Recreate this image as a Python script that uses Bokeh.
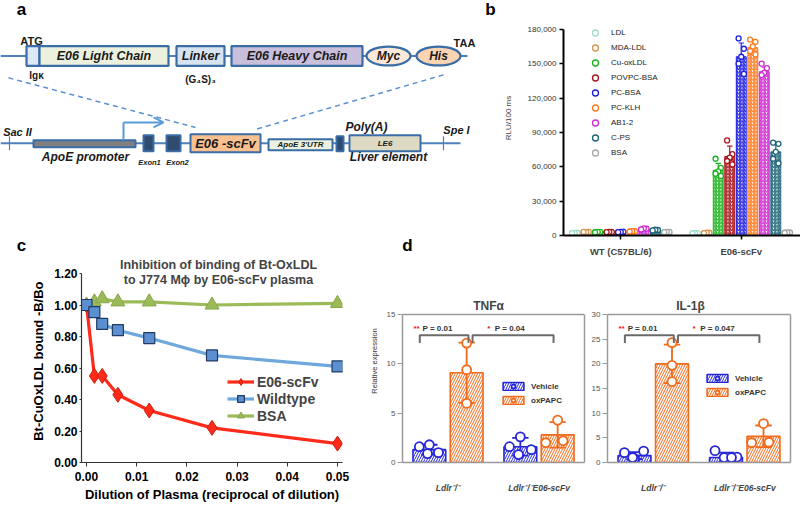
import numpy as np
from bokeh.plotting import figure
from bokeh.layouts import row, column
from bokeh.models import (Range1d, FixedTicker, NumeralTickFormatter, Label, Span, LinearAxis,
                          Legend, LegendItem, Arrow, OpenHead)
from bokeh.core.properties import value
from bokeh.embed import file_html
from bokeh.resources import INLINE

FONT = "Liberation Sans"

# ================= Panel a : construct diagram =================
a_top_box_left = [26, 39, 176, 231]
a_top_box_right = [39, 168, 224, 362]
a_top_box_fill = ["#DDE8F4", "#EBF1DE", "#D7E3F1", "#C9BEDB"]
a_top_box_text = ["", "E06 Light Chain", "Linker", "E06 Heavy Chain"]
a_oval_x = [388, 438]
a_oval_fill = ["#FDE9D9", "#FBD4B4"]
a_oval_text = ["Myc", "His"]
a_bot_box_left = [33, 143, 166, 190, 268, 336, 349]
a_bot_box_right = [135, 153, 180, 260, 332, 343, 420]
a_bot_box_top = [141, 136, 136, 135, 140, 137, 136]
a_bot_box_bottom = [148, 152, 152, 153, 151, 152, 152]
a_bot_box_fill = ["#808080", "#2F4B6E", "#2F4B6E", "#FAC090", "#EBF1DE", "#2F4B6E", "#DDD9C3"]
a_big_text = ["E06 -scFv"]
a_small_text = ["ApoE 3'UTR", "LE6"]
a_labels = ["ATG", "TAA", "Igκ", "(G₄S)₃", "Sac II", "Spe I", "Poly(A)",
            "ApoE promoter", "Exon1", "Exon2", "Liver element"]
a_label_x = [31, 464, 36, 200, 17, 456, 366, 85, 149, 177, 388]
a_label_y = [41, 43, 76, 80, 133, 131, 128, 158, 163, 163, 158]
a_label_size = ["11px", "11px", "10px", "10px", "11px", "11px", "12px", "12px", "7.5px", "7.5px", "12px"]
a_label_style = ["bold", "bold", "bold", "bold", "bold italic", "bold italic", "bold italic",
                 "bold italic", "bold italic", "bold italic", "bold italic"]
top_letters = ["a", "b"]
top_letter_x = [21, 490]
top_letter_y = [9, 9]
lower_letters = ["c", "d"]
lower_letter_x = [21, 407]

# ================= Panel b : binding to epitopes =================
b_groups = ["WT (C57BL/6)", "E06-scFv"]
b_series = ["LDL", "MDA-LDL", "Cu-oxLDL", "POVPC-BSA", "PC-BSA", "PC-KLH", "AB1-2", "C-PS", "BSA"]
b_colors = ["#A3DDCF", "#D6954E", "#1CB31C", "#A8161C", "#1F1FE0", "#FF7B1F", "#D02DD0", "#1E6577", "#A6A6A6"]
b_wt_mean = [2300, 3000, 3000, 3000, 3000, 3600, 5600, 4600, 3000]
b_wt_sd = [300, 300, 300, 300, 400, 400, 800, 600, 300]
b_e06_mean = [2000, 2300, 57000, 69000, 156000, 164000, 143000, 73000, 2600]
b_e06_sd = [300, 300, 6000, 9000, 12000, 7000, 4000, 7000, 300]
b_wt_points = [[2000, 2400, 2300, 2100], [2900, 3200, 3000, 3100], [2900, 3200, 3100, 2800],
               [2800, 3100, 3200, 3000], [2700, 3300, 3100, 2900], [3300, 3700, 3900, 3400],
               [5000, 5900, 6200, 5300], [4200, 4800, 5000, 4400], [2800, 3100, 3200, 2900]]
b_e06_points = [[1800, 2100, 2200, 1900], [2000, 2400, 2500, 2100],
                [67000, 59000, 56000, 54000, 52000], [83000, 71000, 68000, 65000, 62000],
                [172000, 163000, 156000, 150000, 141000], [171000, 169000, 165000, 161000, 158000],
                [150000, 146000, 142000, 140000], [81000, 80000, 73000, 67000, 63000],
                [2300, 2600, 2700, 2400]]
b_ymax = 180000
b_yticks = [0, 30000, 60000, 90000, 120000, 150000, 180000]

# ================= Panel c : competition curves =================
c_x = [0, 0.0015625, 0.003125, 0.00625, 0.0125, 0.025, 0.05]
c_e06 = [1.00, 0.55, 0.55, 0.43, 0.33, 0.22, 0.12]
c_wt = [1.00, 0.955, 0.88, 0.84, 0.79, 0.68, 0.61]
c_bsa = [1.00, 1.02, 1.04, 1.02, 1.02, 1.00, 1.01]
c_ymax = 1.2
c_xticks = [0, 0.01, 0.02, 0.03, 0.04, 0.05]
c_yticks = [0, 0.2, 0.4, 0.6, 0.8, 1.0, 1.2]
c_names = ["E06-scFv", "Wildtype", "BSA"]
c_title = ["Inhibition of binding of Bt-OxLDL", "to J774 Mϕ by E06-scFv plasma"]

# ================= Panel d : gene expression =================
d_groups = ["Ldlr⁻/⁻", "Ldlr⁻/⁻E06-scFv"]
d_tnf_veh_mean = [1.3, 1.6]
d_tnf_veh_err = [0.5, 0.9]
d_tnf_veh_pts = [[1.6, 1.8, 0.9, 1.0], [1.6, 2.6, 0.8, 1.3]]
d_tnf_ox_mean = [9.1, 2.8]
d_tnf_ox_err = [3.05, 1.3]
d_tnf_ox_pts = [[12.1, 9.4, 6.0], [4.3, 2.0, 2.2]]
d_tnf_bracket = [12.9, 12.1]
d_tnf_text_y = 13.6
d_tnf_p = ["P = 0.01", "P = 0.04"]
d_tnf_ticks = [0, 5, 10, 15]

d_il_veh_mean = [1.4, 1.0]
d_il_veh_err = [0.7, 1.0]
d_il_veh_pts = [[2.0, 0.8, 1.0, 2.3], [2.4, 0.5, 1.0, 1.1, 1.0]]
d_il_ox_mean = [20.0, 5.3]
d_il_ox_err = [3.9, 2.2]
d_il_ox_pts = [[24.3, 19.7, 16.4], [7.9, 4.0, 4.1]]
d_il_bracket = [25.8, 24.2]
d_il_text_y = 27.2
d_il_p = ["P = 0.01", "P = 0.047"]
d_il_ticks = [0, 5, 10, 15, 20, 25, 30]

D_BLUE = "#2626D8"
D_ORANGE = "#F26A1B"
D_GRAY = "#9A9A9A"

# layout geometry (page pixels): row 1 frames span 0..237, row 2 frames span 259..462
ROW1_H, ROW2_H = 259, 247
B_AXIS_FRAC = 237 / 208      # frame height / height of the 0..180000 axis
C_AXIS_FRAC = 203 / 189      # frame height / height of the 0..1.2 axis
D_AXIS_FRAC = 203 / 148      # frame height / height of the boxed area


def svgfig(**kw):
    p = figure(output_backend="svg", toolbar_location=None, **kw)
    p.grid.visible = False
    p.outline_line_color = None
    return p


# ---------------------------------------------------------------- panel a
pa = svgfig(width=500, height=ROW1_H, x_range=Range1d(0, 500), y_range=Range1d(237, 0),
            x_axis_location=None, y_axis_location=None, min_border_left=0, min_border_right=0,
            min_border_top=0, min_border_bottom=22)
LINE = "#4F81BD"
EDGE = "#3A6CA6"
pa.segment(x0=[0, 0], y0=[56, 144], x1=[467, 460], y1=[56, 144], line_color=LINE, line_width=2)
pa.segment(x0=[8, 443], y0=[78, 75], x1=[195, 255], y1=[128, 130], line_color="#5B8FD0",
           line_width=1.5, line_dash="5 4")
pa.segment(x0=[9, 443], y0=[137, 137], x1=[9, 443], y1=[151, 151], line_color=LINE, line_width=1.2)
pa.quad(left=a_top_box_left, right=a_top_box_right, top=[46] * 4, bottom=[66] * 4,
        fill_color=a_top_box_fill, line_color=EDGE, line_width=2.2)
pa.ellipse(x=a_oval_x, y=[56, 56], width=[44, 44], height=[19, 19], fill_color=a_oval_fill,
           line_color=EDGE, line_width=2.2)
pa.text(x=[(l + r) / 2 for l, r in zip(a_top_box_left, a_top_box_right)], y=[56] * 4,
        text=a_top_box_text, text_font=value(FONT), text_font_style="bold italic",
        text_font_size="12.5px", text_align="center", text_baseline="middle", text_color="#1A1A1A")
pa.text(x=a_oval_x, y=[56, 56], text=a_oval_text, text_font=value(FONT),
        text_font_style="bold italic", text_font_size="12px", text_align="center",
        text_baseline="middle", text_color="#1A1A1A")
pa.quad(left=a_bot_box_left, right=a_bot_box_right, top=a_bot_box_top, bottom=a_bot_box_bottom,
        fill_color=a_bot_box_fill, line_color=EDGE, line_width=2)
pa.text(x=[(a_bot_box_left[3] + a_bot_box_right[3]) / 2], y=[144.5], text=a_big_text,
        text_font=value(FONT), text_font_style="bold italic", text_font_size="13px",
        text_align="center", text_baseline="middle", text_color="#1A1A1A")
pa.text(x=[(a_bot_box_left[4] + a_bot_box_right[4]) / 2, (a_bot_box_left[6] + a_bot_box_right[6]) / 2],
        y=[145.5, 144], text=a_small_text, text_font=value(FONT), text_font_style="bold italic",
        text_font_size="8px", text_align="center", text_baseline="middle", text_color="#1A1A1A")
for t, x, y, s, st in zip(a_labels, a_label_x, a_label_y, a_label_size, a_label_style):
    pa.text(x=[x], y=[y], text=[t], text_font=value(FONT), text_font_style=st, text_font_size=s,
            text_align="center", text_baseline="middle", text_color="#1A1A1A")
pa.segment(x0=[123], y0=[141], x1=[123], y1=[123], line_color="#5B9BD5", line_width=2)
pa.add_layout(Arrow(end=OpenHead(size=10, line_color="#5B9BD5", line_width=2),
                    x_start=123, y_start=123, x_end=163, y_end=123,
                    line_color="#5B9BD5", line_width=2))
for t, x, y in zip(top_letters, top_letter_x, top_letter_y):
    pa.add_layout(Label(x=x, y=y, text=t, text_font=FONT, text_font_style="bold",
                        text_font_size="17px", text_align="center", text_baseline="middle",
                        text_color="black"))
# the panel letters "c" and "d" sit just below the diagram: shown as tick labels of a bare axis
letters_axis = LinearAxis(ticker=FixedTicker(ticks=lower_letter_x),
                          major_label_overrides={x: t for x, t in zip(lower_letter_x, lower_letters)},
                          axis_line_color=None, major_tick_line_color=None,
                          minor_tick_line_color=None, major_label_standoff=-6,
                          major_label_text_font=FONT, major_label_text_font_size="17px",
                          major_label_text_font_style="bold", major_label_text_color="black")
pa.add_layout(letters_axis, "below")

# ---------------------------------------------------------------- panel b
pb = svgfig(width=300, height=ROW1_H, x_range=Range1d(0.5246, 2.4918),
            y_range=Range1d(0, b_ymax * B_AXIS_FRAC),
            min_border_left=60, min_border_right=0, min_border_top=0, min_border_bottom=22)
b_offsets = (np.arange(len(b_series)) - 4) * 0.0956
b_bar_w = 0.082
b_jit = [-0.022, 0.022, 0.0, -0.022, 0.022]
b_items = []
for i, name in enumerate(b_series):
    col = b_colors[i]
    xs = [1 + b_offsets[i], 2 + b_offsets[i]]
    means = [b_wt_mean[i], b_e06_mean[i]]
    sds = [b_wt_sd[i], b_e06_sd[i]]
    pb.vbar(x=xs, top=means, width=b_bar_w, fill_color="white", line_color=col, line_width=1,
            hatch_pattern="right_diagonal_line", hatch_color=col, hatch_scale=3.5, hatch_weight=1.3)
    tops = [m + s for m, s in zip(means, sds)]
    pb.segment(x0=xs, y0=means, x1=xs, y1=tops, line_color=col, line_width=1.2)
    pb.segment(x0=[x - 0.022 for x in xs], y0=tops, x1=[x + 0.022 for x in xs], y1=tops,
               line_color=col, line_width=1.2)
    px, py = [], []
    for gx, pts in zip(xs, [b_wt_points[i], b_e06_points[i]]):
        for k, v in enumerate(pts):
            px.append(gx + b_jit[k % len(b_jit)])
            py.append(v)
    r = pb.scatter(px, py, marker="circle", size=5, fill_color="white", line_color=col, line_width=1.3)
    b_items.append(LegendItem(label=name, renderers=[r]))
pb.add_layout(Legend(items=b_items, location=(24, 75), glyph_width=16, glyph_height=15,
                     label_height=15, spacing=0, padding=0, margin=0, label_standoff=8,
                     label_text_font=FONT, label_text_font_size="8px", label_text_color="#222",
                     background_fill_alpha=0, border_line_color=None))
pb.xaxis.ticker = FixedTicker(ticks=[1, 2])
pb.xaxis.major_label_overrides = {1: b_groups[0], 2: b_groups[1]}
pb.yaxis.ticker = FixedTicker(ticks=b_yticks)
pb.yaxis.bounds = (0, b_ymax)
pb.yaxis.formatter = NumeralTickFormatter(format="0,0")
pb.yaxis.axis_label = "RLU/100 ms"
for ax in (pb.xaxis[0], pb.yaxis[0]):
    ax.axis_line_width = 2
    ax.axis_line_color = "black"
    ax.major_tick_out = 4
    ax.major_tick_in = 0
    ax.major_tick_line_width = 1.5
    ax.minor_tick_line_color = None
    ax.major_label_text_font = FONT
pb.xaxis.major_label_text_font_size = "9.5px"
pb.xaxis.major_label_text_font_style = "bold"
pb.xaxis.major_label_standoff = 6
pb.yaxis.major_label_text_font_size = "8px"
pb.yaxis.major_label_text_color = "#333"
pb.yaxis.major_label_standoff = 3
pb.yaxis.axis_label_text_font = FONT
pb.yaxis.axis_label_text_font_size = "8px"
pb.yaxis.axis_label_text_font_style = "normal"
pb.yaxis.axis_label_standoff = 12

# ---------------------------------------------------------------- panel c
pc = svgfig(width=365, height=ROW2_H, x_range=Range1d(-0.001, 0.051),
            y_range=Range1d(0, c_ymax * C_AXIS_FRAC),
            min_border_left=81, min_border_right=23, min_border_top=0, min_border_bottom=44)
l_e = pc.line(c_x, c_e06, line_color="#FF2A1A", line_width=3.2)
l_w = pc.line(c_x, c_wt, line_color="#6FA8DC", line_width=3.2)
l_b = pc.line(c_x, c_bsa, line_color="#9BBB59", line_width=3.2)
m_e = pc.scatter(c_x, c_e06, marker="diamond", size=15, fill_color="#FF2A1A", line_color="#C8200F")
m_b = pc.scatter(c_x, c_bsa, marker="triangle", size=14, fill_color="#9BBB59", line_color="#86A64A")
m_w = pc.scatter(c_x, c_wt, marker="square", size=11, fill_color="#5B8FD0", line_color="#1F3A66",
                 line_width=1.2)
pc.add_layout(Legend(items=[LegendItem(label=c_names[0], renderers=[l_e, m_e]),
                            LegendItem(label=c_names[1], renderers=[l_w, m_w]),
                            LegendItem(label=c_names[2], renderers=[l_b, m_b])],
                     location=(146, 38), glyph_width=27, glyph_height=17, label_height=17,
                     spacing=0, padding=0, margin=0, label_standoff=3,
                     label_text_font=FONT, label_text_font_size="14px",
                     label_text_font_style="bold", background_fill_alpha=0, border_line_color=None))
pc.xaxis.ticker = FixedTicker(ticks=c_xticks)
pc.yaxis.ticker = FixedTicker(ticks=c_yticks)
pc.yaxis.bounds = (0, c_ymax)
pc.xaxis.formatter = NumeralTickFormatter(format="0.00")
pc.yaxis.formatter = NumeralTickFormatter(format="0.00")
pc.xaxis.axis_label = "Dilution of Plasma (reciprocal of dilution)"
pc.yaxis.axis_label = "Bt-CuOxLDL bound -B/Bo"
for ax in (pc.xaxis[0], pc.yaxis[0]):
    ax.axis_line_color = "#333"
    ax.axis_line_width = 1.2
    ax.major_tick_out = 4
    ax.major_tick_in = 0
    ax.major_tick_line_color = "#333"
    ax.minor_tick_line_color = None
    ax.major_label_text_font = FONT
    ax.major_label_text_font_size = "12px"
    ax.major_label_text_font_style = "bold"
    ax.major_label_text_color = "black"
    ax.axis_label_text_font = FONT
    ax.axis_label_text_font_size = "13px"
    ax.axis_label_text_font_style = "bold"
    ax.axis_label_text_color = "black"
pc.xaxis.major_label_standoff = 5
pc.xaxis.axis_label_standoff = 3
pc.yaxis.major_tick_out = 2
pc.yaxis.major_label_standoff = 2
pc.yaxis.axis_label_standoff = 5
for t, yy in zip(c_title, (198, 183)):
    pc.add_layout(Label(x=137, y=yy, x_units="screen", y_units="screen", text=t,
                        text_font=FONT, text_font_style="bold", text_font_size="12.5px",
                        text_align="center", text_baseline="middle"))


# ---------------------------------------------------------------- panel d
def make_d(width, bl, br, ymax, yticks, veh_mean, veh_err, veh_pts, ox_mean, ox_err, ox_pts,
           title, title_x, bracket, text_y, ptexts, ylabel, leg_loc):
    p = svgfig(width=width, height=ROW2_H, x_range=Range1d(0.5, 2.5),
               y_range=Range1d(0, ymax * D_AXIS_FRAC),
               min_border_left=bl, min_border_right=br, min_border_top=0, min_border_bottom=44)
    off, bw, cap = 0.205, 0.36, 0.09
    jit = {"Vehicle": [[-0.11, 0.0, -0.02, 0.1, 0.05], [-0.12, 0.0, -0.02, 0.12, 0.06]],
           "oxPAPC": [[0.0, 0.0, 0.0], [0.0, -0.13, 0.06]]}
    items = []
    for name, col, sign, mean, err, pts in (("Vehicle", D_BLUE, -1, veh_mean, veh_err, veh_pts),
                                            ("oxPAPC", D_ORANGE, 1, ox_mean, ox_err, ox_pts)):
        xs = [g + sign * off for g in (1, 2)]
        rb = p.vbar(x=xs, top=mean, width=bw, fill_color="white", line_color=col, line_width=1.6,
                    hatch_pattern="right_diagonal_line", hatch_color=col, hatch_scale=5,
                    hatch_weight=1)
        lo = [m - e for m, e in zip(mean, err)]
        hi = [m + e for m, e in zip(mean, err)]
        p.segment(x0=xs, y0=lo, x1=xs, y1=hi, line_color=col, line_width=1.8)
        p.segment(x0=[x - cap for x in xs] * 2, y0=hi + lo, x1=[x + cap for x in xs] * 2,
                  y1=hi + lo, line_color=col, line_width=1.8)
        px, py = [], []
        for gi, (gx, pp) in enumerate(zip(xs, pts)):
            for k, v in enumerate(pp):
                px.append(gx + jit[name][gi][k])
                py.append(v)
        rp = p.scatter(px, py, marker="circle", size=9, fill_color="white", line_color=col,
                       line_width=1.8)
        items.append(LegendItem(label=name, renderers=[rb, rp]))
    bx0 = [1 - 0.31, 1 + 0.27]
    bx1 = [1 + 0.225, 2 + 0.16]
    p.multi_line(xs=[[a, a, b, b] for a, b in zip(bx0, bx1)],
                 ys=[[bracket[1], bracket[0], bracket[0], bracket[1]]] * 2,
                 line_color="#6B6B6B", line_width=2)
    sx = [bx0[0] - 0.07, bx0[1] + 0.16]
    p.text(x=sx, y=[text_y] * 2, text=["**", "*"], text_color="#E8202A", text_font=value(FONT),
           text_font_size="8px", text_font_style="bold", text_align="left", text_baseline="middle")
    p.text(x=[bx0[0] + 0.03, bx0[1] + 0.245], y=[text_y] * 2, text=ptexts, text_color="#333",
           text_font=value(FONT), text_font_size="8px", text_font_style="bold",
           text_align="left", text_baseline="middle")
    p.add_layout(Legend(items=items, location=leg_loc, glyph_width=26, glyph_height=10,
                        label_height=10, spacing=4, padding=0, margin=0, label_standoff=5,
                        label_text_font=FONT, label_text_font_size="8px",
                        label_text_font_style="bold", label_text_color="#333",
                        background_fill_alpha=0, border_line_color=None))
    # box around the plot area: left axis, right axis, bottom axis line and a top span
    p.add_layout(Span(location=ymax, dimension="width", line_color=D_GRAY, line_width=1.5))
    rax = LinearAxis(ticker=FixedTicker(ticks=[]), bounds=(0, ymax), axis_line_color=D_GRAY,
                     axis_line_width=1.5, major_tick_line_color=None, minor_tick_line_color=None)
    p.add_layout(rax, "right")
    ya = p.yaxis[0]
    ya.ticker = FixedTicker(ticks=yticks)
    ya.bounds = (0, ymax)
    ya.axis_line_color = D_GRAY
    ya.axis_line_width = 1.5
    ya.major_tick_out = 5
    ya.major_tick_in = 0
    ya.major_tick_line_color = D_GRAY
    ya.minor_tick_line_color = None
    ya.major_label_text_font = FONT
    ya.major_label_text_font_size = "8px"
    ya.major_label_text_color = "#555"
    ya.major_label_standoff = 2
    if ylabel:
        ya.axis_label = ylabel
        ya.axis_label_text_font = FONT
        ya.axis_label_text_font_size = "7.5px"
        ya.axis_label_text_font_style = "normal"
        ya.axis_label_text_color = "#333"
        ya.axis_label_standoff = 5
    p.xaxis.ticker = FixedTicker(ticks=[1, 2])
    p.xaxis.major_label_overrides = {1: d_groups[0], 2: d_groups[1]}
    p.xaxis.axis_line_color = D_GRAY
    p.xaxis.axis_line_width = 1.5
    p.xaxis.major_tick_line_color = None
    p.xaxis.minor_tick_line_color = None
    p.xaxis.major_label_text_font = FONT
    p.xaxis.major_label_text_font_size = "8.5px"
    p.xaxis.major_label_text_font_style = "bold italic"
    p.xaxis.major_label_standoff = 14
    p.add_layout(Label(x=title_x, y=157, x_units="screen", y_units="screen", text=title,
                       text_font=FONT, text_font_style="bold", text_font_size="12px",
                       text_align="center", text_baseline="middle"))
    return p


d1 = make_d(223, 37, 4, 15, d_tnf_ticks, d_tnf_veh_mean, d_tnf_veh_err, d_tnf_veh_pts,
            d_tnf_ox_mean, d_tnf_ox_err, d_tnf_ox_pts, "TNFα", 86, d_tnf_bracket, d_tnf_text_y,
            d_tnf_p, "Relative expression", (98, 57))
d2 = make_d(212, 19, 10, 30, d_il_ticks, d_il_veh_mean, d_il_veh_err, d_il_veh_pts,
            d_il_ox_mean, d_il_ox_err, d_il_ox_pts, "IL-1β", 83, d_il_bracket, d_il_text_y,
            d_il_p, None, (97, 65))

layout = column(row(pa, pb), row(pc, d1, d2))
open("out.html", "w").write(file_html(layout, INLINE, title="E06-scFv"))
